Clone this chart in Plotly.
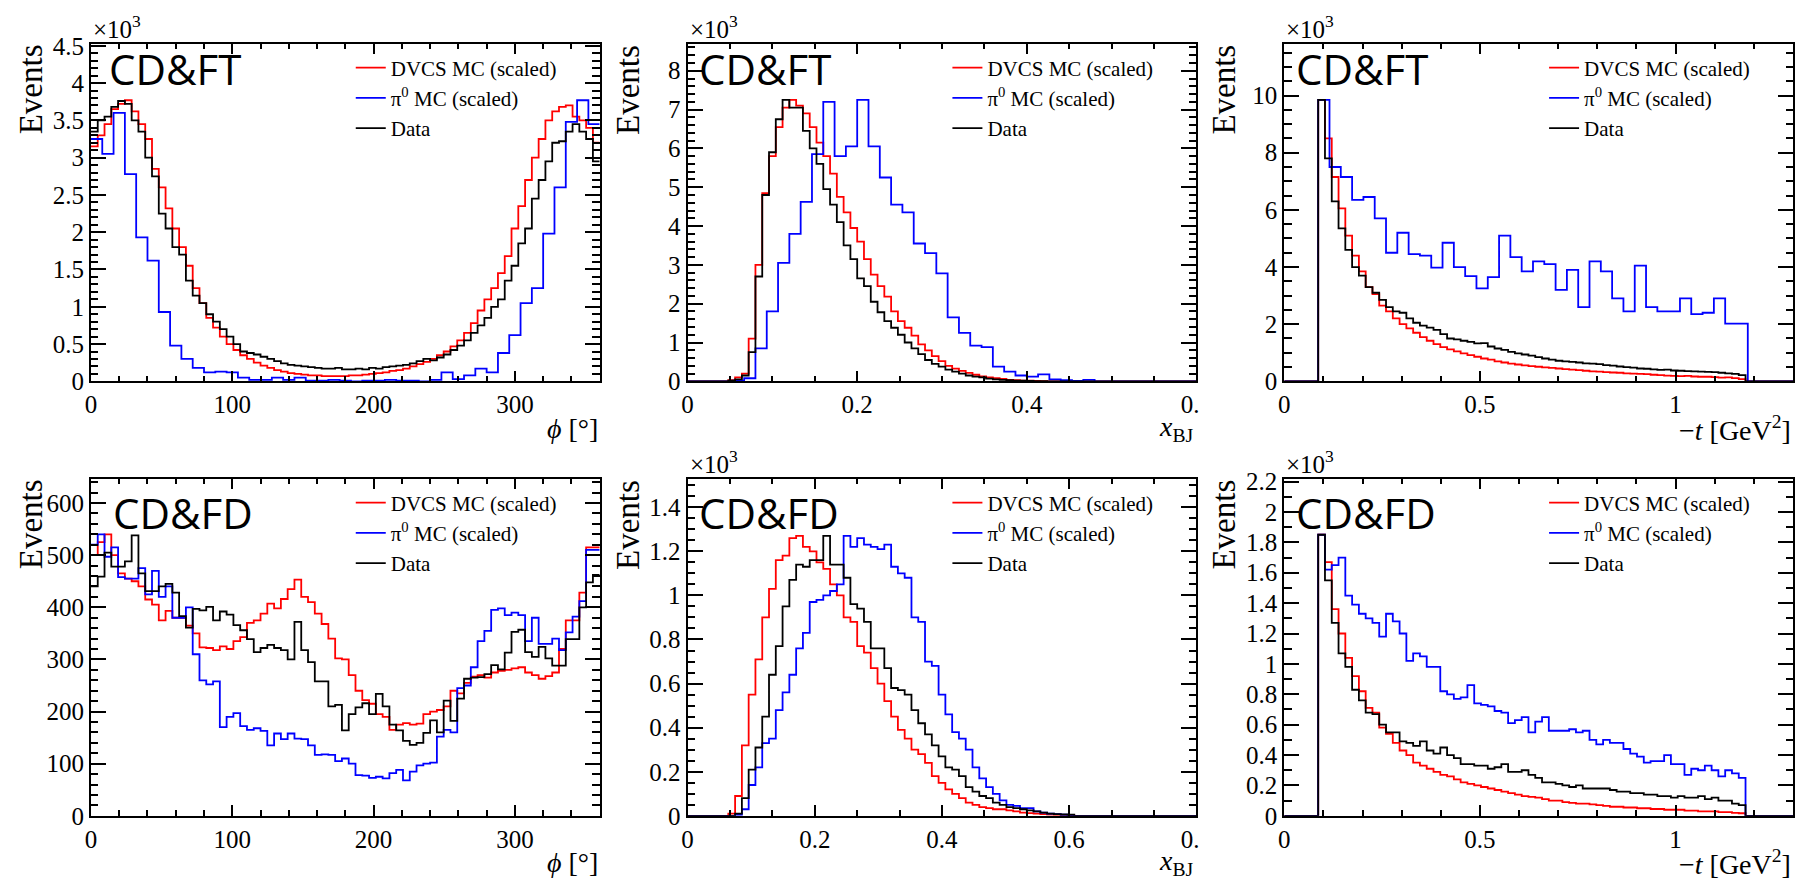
import numpy as np
import plotly.graph_objects as go

# ---------------- data (contents per bin) ----------------
PHI_RANGE = (0.0, 360.0)
XBJ_RANGE_FT = (0.0, 0.6)
XBJ_RANGE_FD = (0.0, 0.8)
T_RANGE = (0.0, 1.3)

# CD&FT, phi  (x10^3 events)
ft_phi_data = [3.35, 3.5, 3.55, 3.68, 3.76, 3.72, 3.5, 3.35, 3.0, 2.75,
               2.25, 2.05, 1.8, 1.7, 1.35, 1.15, 1.05, 0.9, 0.8, 0.7,
               0.6, 0.5, 0.4, 0.38, 0.36, 0.33, 0.3, 0.27, 0.24, 0.22,
               0.21, 0.2, 0.19, 0.18, 0.17, 0.17, 0.18, 0.16, 0.16, 0.17,
               0.16, 0.18, 0.17, 0.19, 0.2, 0.21, 0.22, 0.24, 0.27, 0.3,
               0.28, 0.32, 0.36, 0.42, 0.48, 0.55, 0.65, 0.75, 0.85, 1.0,
               1.1, 1.35, 1.55, 1.85, 2.05, 2.45, 2.7, 2.95, 3.2, 3.22,
               3.35, 3.45, 3.35, 3.25, 2.95]
ft_phi_dvcs = [3.15, 3.3, 3.45, 3.65, 3.72, 3.77, 3.62, 3.45, 3.25, 2.85,
               2.6, 2.32, 2.05, 1.8, 1.55, 1.25, 1.05, 0.85, 0.72, 0.6,
               0.5, 0.42, 0.35, 0.3, 0.25, 0.21, 0.18, 0.15, 0.13, 0.11,
               0.1, 0.09, 0.08, 0.08, 0.07, 0.07, 0.07, 0.07, 0.08, 0.08,
               0.09, 0.1, 0.11, 0.12, 0.14, 0.15, 0.17, 0.2, 0.23, 0.26,
               0.3, 0.35, 0.4, 0.47, 0.55, 0.65, 0.78, 0.95, 1.1, 1.25,
               1.45, 1.68, 2.05, 2.35, 2.7, 3.0, 3.25, 3.5, 3.62, 3.68,
               3.7, 3.55, 3.5, 3.4, 3.2]
ft_phi_pi0 = [3.25, 3.05, 3.6, 2.78, 1.93, 1.62, 0.93, 0.48, 0.3, 0.18,
              0.12, 0.13, 0.12, 0.05, 0.02, 0.02, 0.05, 0.02, 0.05, 0.01,
              0.01, 0.02, 0.01, 0.0, 0.01, 0.01, 0.02, 0.01, 0.01, 0.0,
              0.02, 0.12, 0.03, 0.08, 0.17, 0.12, 0.38, 0.62, 1.05, 1.25,
              1.98, 2.6, 3.48, 3.77, 3.45]

# CD&FT, x_BJ  (x10^3 events)
ft_xbj_data = [0.0] * 6 + [0.02, 0.05, 0.15, 0.75, 2.7, 4.8, 5.9, 6.75, 7.25, 7.05,
                           7.05, 6.45, 6.0, 5.6, 4.95, 4.55, 4.1, 3.5, 3.15, 2.65,
                           2.45, 2.05, 1.78, 1.55, 1.38, 1.2, 1.0, 0.85, 0.7, 0.55,
                           0.45, 0.38, 0.3, 0.25, 0.2, 0.15, 0.12, 0.1, 0.07, 0.05,
                           0.04, 0.03, 0.02, 0.015, 0.01, 0.008, 0.005] + [0.0] * 22
ft_xbj_dvcs = [0.0] * 6 + [0.03, 0.1, 0.2, 1.1, 3.0, 4.85, 5.8, 6.55, 7.05, 7.25,
                           7.1, 6.9, 6.55, 6.15, 5.8, 5.35, 4.75, 4.35, 3.95, 3.6,
                           3.15, 2.75, 2.45, 2.18, 1.8, 1.55, 1.38, 1.18, 0.95, 0.8,
                           0.65, 0.52, 0.4, 0.33, 0.27, 0.22, 0.17, 0.13, 0.1, 0.08,
                           0.06, 0.04, 0.03, 0.02, 0.015, 0.01, 0.005] + [0.0] * 22
ft_xbj_pi0 = [0.0] * 4 + [0.02, 0.08, 0.85, 1.8, 3.05, 3.8, 4.62, 5.85, 7.2, 5.8,
                          6.05, 7.25, 6.05, 5.25, 4.55, 4.35, 3.55, 3.3, 2.78, 1.65,
                          1.25, 0.92, 0.88, 0.38, 0.25, 0.15, 0.12, 0.18, 0.05, 0.03,
                          0.01, 0.04] + [0.0] * 9

# CD&FT, -t  (x10^3 events)
ft_t_data = [0.0] * 5 + [9.85, 7.8, 6.3, 5.35, 4.6, 4.0, 3.7, 3.3, 3.1, 2.85,
                         2.6, 2.45, 2.4, 2.2, 2.05, 1.95, 1.88, 1.8, 1.65, 1.5,
                         1.47, 1.42, 1.38, 1.33, 1.34, 1.22, 1.15, 1.1, 1.03, 0.98,
                         0.94, 0.9, 0.85, 0.8, 0.76, 0.72, 0.7, 0.68, 0.66, 0.63,
                         0.62, 0.6, 0.57, 0.55, 0.52, 0.5, 0.48, 0.45, 0.44, 0.42,
                         0.4, 0.41, 0.38, 0.37, 0.36, 0.35, 0.34, 0.33, 0.32, 0.3,
                         0.28, 0.26, 0.22] + [0.0] * 7
ft_t_dvcs = [0.0] * 5 + [9.85, 8.5, 7.15, 6.05, 5.1, 4.4, 3.85, 3.3, 3.05, 2.65, 2.45,
                         2.2, 2.0, 1.85, 1.7, 1.55, 1.42, 1.3, 1.2, 1.12, 1.05,
                         0.98, 0.92, 0.86, 0.8, 0.76, 0.7, 0.66, 0.62, 0.59, 0.56,
                         0.53, 0.51, 0.49, 0.47, 0.45, 0.43, 0.41, 0.39, 0.37, 0.35,
                         0.34, 0.32, 0.31, 0.3, 0.28, 0.27, 0.26, 0.25, 0.23, 0.22,
                         0.2, 0.19, 0.18, 0.19, 0.17, 0.16, 0.16, 0.15, 0.13, 0.14,
                         0.11, 0.08] + [0.0] * 7
ft_t_pi0 = [0.0] * 3 + [9.85, 7.5, 7.15, 6.35, 6.45, 5.7, 4.5, 5.2, 4.45, 4.4,
                        3.98, 4.85, 4.0, 3.68, 3.25, 3.65, 5.1, 4.35, 3.85, 4.2,
                        4.1, 3.2, 3.9, 2.6, 4.2, 3.85, 2.9, 2.45, 4.05, 2.6,
                        2.45, 2.45, 2.9, 2.35, 2.4, 2.9, 2.02, 2.02] + [0.0] * 4

# CD&FD, phi  (events)
fd_phi_data = [440, 459, 505, 478, 478, 488, 538, 465, 431, 431,
               440, 445, 428, 383, 361, 397, 394, 401, 375, 392,
               386, 366, 356, 339, 314, 322, 328, 322, 318, 300,
               372, 318, 295, 258, 258, 210, 213, 164, 195, 208,
               216, 195, 234, 210, 175, 164, 144, 136, 140, 159,
               183, 160, 221, 182, 225, 263, 265, 266, 272, 289,
               281, 313, 353, 357, 314, 305, 324, 302, 288, 288,
               339, 339, 400, 448, 462]
fd_phi_dvcs = [500, 525, 540, 500, 465, 455, 450, 440, 415, 405,
               375, 393, 380, 380, 365, 350, 323, 322, 318, 325,
               320, 335, 343, 370, 375, 388, 407, 398, 416, 435,
               453, 420, 410, 388, 368, 340, 302, 300, 270, 240,
               222, 215, 195, 190, 165, 175, 178, 175, 177, 195,
               200, 203, 210, 240, 235, 255, 267, 270, 265, 275,
               278, 280, 283, 285, 275, 270, 263, 268, 275, 320,
               375, 375, 428, 515, 515]
fd_phi_pi0 = [520, 540, 497, 515, 458, 455, 455, 475, 425, 470,
              420, 440, 380, 380, 400, 310, 260, 252, 258, 170,
              190, 197, 172, 165, 168, 163, 135, 158, 147, 158,
              148, 147, 135, 117, 118, 117, 105, 110, 100, 78,
              77, 73, 75, 72, 82, 88, 68, 85, 97, 100,
              102, 152, 165, 160, 245, 250, 285, 335, 355, 395,
              398, 385, 390, 385, 335, 380, 330, 330, 340, 318,
              352, 382, 412, 510, 510]

# CD&FD, x_BJ  (x10^3 events)
fd_xbj_data = [0.0] * 7 + [0.01, 0.08, 0.21, 0.31, 0.45, 0.64, 0.77, 0.95, 1.07, 1.14,
                           1.13, 1.16, 1.16, 1.27, 1.14, 1.14, 1.08, 0.96, 0.94, 0.88,
                           0.76, 0.76, 0.67, 0.58, 0.57, 0.55, 0.48, 0.42, 0.37, 0.32,
                           0.27, 0.22, 0.21, 0.18, 0.13, 0.11, 0.09, 0.08, 0.06, 0.05,
                           0.04, 0.035, 0.03, 0.025, 0.02, 0.015, 0.01, 0.008, 0.006, 0.005] + [0.0] * 18
fd_xbj_dvcs = [0.0] * 6 + [0.01, 0.09, 0.32, 0.55, 0.71, 0.9, 1.03, 1.16, 1.18, 1.26,
                           1.27, 1.22, 1.2, 1.15, 1.12, 1.05, 1.0, 0.9, 0.88, 0.77,
                           0.74, 0.67, 0.6, 0.52, 0.45, 0.39, 0.35, 0.3, 0.28, 0.24,
                           0.18, 0.15, 0.12, 0.1, 0.08, 0.06, 0.05, 0.04, 0.035, 0.03,
                           0.03, 0.025, 0.02, 0.015, 0.012, 0.01, 0.008, 0.006, 0.005, 0.004,
                           0.003] + [0.0] * 18
fd_xbj_pi0 = [0.0] * 7 + [0.005, 0.03, 0.14, 0.22, 0.33, 0.35, 0.48, 0.56, 0.64, 0.76,
                          0.83, 0.97, 0.98, 1.0, 1.02, 1.05, 1.27, 1.22, 1.26, 1.23,
                          1.22, 1.21, 1.23, 1.13, 1.1, 1.08, 0.9, 0.88, 0.7, 0.68,
                          0.55, 0.46, 0.38, 0.35, 0.3, 0.22, 0.17, 0.13, 0.1, 0.07,
                          0.05, 0.045, 0.035, 0.035, 0.02, 0.015, 0.01, 0.008, 0.005] + [0.0] * 19

# CD&FD, -t  (x10^3 events)
fd_t_data = [0.0] * 5 + [1.85, 1.55, 1.27, 1.07, 0.98, 0.83, 0.76, 0.68, 0.67, 0.6,
                         0.55, 0.55, 0.49, 0.48, 0.46, 0.49, 0.43, 0.41, 0.45, 0.4,
                         0.38, 0.34, 0.34, 0.33, 0.33, 0.31, 0.32, 0.34, 0.29, 0.29,
                         0.3, 0.27, 0.25, 0.22, 0.22, 0.21, 0.2, 0.19, 0.2, 0.18,
                         0.18, 0.18, 0.18, 0.17, 0.16, 0.16, 0.15, 0.15, 0.14, 0.14,
                         0.13, 0.13, 0.12, 0.13, 0.12, 0.12, 0.13, 0.11, 0.12, 0.1,
                         0.1, 0.08, 0.07] + [0.0] * 7
fd_t_dvcs = [0.0] * 5 + [1.85, 1.67, 1.36, 1.2, 1.04, 0.92, 0.82, 0.71, 0.68, 0.58, 0.54,
                         0.48, 0.43, 0.4, 0.35, 0.33, 0.31, 0.29, 0.27, 0.26, 0.24,
                         0.22, 0.21, 0.2, 0.19, 0.18, 0.17, 0.16, 0.15, 0.14, 0.13,
                         0.125, 0.12, 0.11, 0.1, 0.1, 0.09, 0.085, 0.08, 0.08, 0.075,
                         0.07, 0.065, 0.06, 0.06, 0.055, 0.055, 0.05, 0.05, 0.045, 0.045,
                         0.04, 0.04, 0.04, 0.035, 0.035, 0.03, 0.03, 0.03, 0.025, 0.025,
                         0.02, 0.017] + [0.0] * 7
fd_t_pi0 = [0.0] * 5 + [1.85, 1.62, 1.65, 1.7, 1.45, 1.39, 1.33, 1.3, 1.27, 1.18, 1.33,
                        1.28, 1.2, 1.02, 1.07, 1.05, 0.98, 0.98, 0.82, 0.8, 0.77,
                        0.78, 0.86, 0.74, 0.73, 0.72, 0.69, 0.68, 0.61, 0.63, 0.65,
                        0.55, 0.62, 0.65, 0.56, 0.56, 0.56, 0.57, 0.55, 0.56, 0.5,
                        0.47, 0.5, 0.48, 0.48, 0.44, 0.41, 0.39, 0.35, 0.36, 0.36,
                        0.4, 0.34, 0.34, 0.27, 0.31, 0.3, 0.33, 0.3, 0.26, 0.3,
                        0.28, 0.25] + [0.0] * 7

SERIES_NAMES = ["DVCS MC (scaled)", "π<sup>0</sup> MC (scaled)", "Data"]
SERIES_COLORS = ["#ff0000", "#0000ff", "#000000"]
REGION_LABELS = ["CD&FT", "CD&FD"]
X_TITLES = ["<i>ϕ</i> [°]", "<i>x</i><sub>BJ</sub>", "−<i>t</i> [GeV<sup>2</sup>]"]

# ---------------- layout geometry ----------------
W, H = 1810, 894
COLS = [(86, 601), (690, 1205), (1294, 1809)]
ROWS = [(33.5, 381), (481, 828)]
SERIF = "Liberation Serif"
SANS = "Open Sans"

panels = [
    dict(r=0, c=0, xr=PHI_RANGE, hists=[ft_phi_dvcs, ft_phi_pi0, ft_phi_data], ymax=4.53,
         xd=100, xm=20, yd=0.5, ym=0.1, scale=True, clip=None, lab_dx=16),
    dict(r=0, c=1, xr=XBJ_RANGE_FT, hists=[ft_xbj_dvcs, ft_xbj_pi0, ft_xbj_data], ymax=8.7,
         xd=0.2, xm=0.05, yd=1, ym=0.2, scale=True, clip=[0, 0.2, 0.4, 0.6], lab_dx=9),
    dict(r=0, c=2, xr=T_RANGE, hists=[ft_t_dvcs, ft_t_pi0, ft_t_data], ymax=11.82,
         xd=0.5, xm=0.1, yd=2, ym=0.5, scale=True, clip=None, lab_dx=10),
    dict(r=1, c=0, xr=PHI_RANGE, hists=[fd_phi_dvcs, fd_phi_pi0, fd_phi_data], ymax=647,
         xd=100, xm=20, yd=100, ym=20, scale=False, clip=None, lab_dx=20),
    dict(r=1, c=1, xr=XBJ_RANGE_FD, hists=[fd_xbj_dvcs, fd_xbj_pi0, fd_xbj_data], ymax=1.53,
         xd=0.2, xm=0.2 / 3, yd=0.2, ym=0.05, scale=True, clip=[0, 0.2, 0.4, 0.6, 0.8], lab_dx=9),
    dict(r=1, c=2, xr=T_RANGE, hists=[fd_t_dvcs, fd_t_pi0, fd_t_data], ymax=2.22,
         xd=0.5, xm=0.1, yd=0.2, ym=0.1, scale=True, clip=None, lab_dx=10),
]

fig = go.Figure()
annotations = []
layout = {}

for i, p in enumerate(panels):
    idx = "" if i == 0 else str(i + 1)
    xa, ya, lg = "x" + idx, "y" + idx, "legend" + idx
    x0, x1 = COLS[p["c"]]
    ytop, ybot = ROWS[p["r"]]
    lo, hi = p["xr"]

    for name, color, vals in zip(SERIES_NAMES, SERIES_COLORS, p["hists"]):
        edges = np.linspace(lo, hi, len(vals) + 1)
        yv = list(vals) + [vals[-1]]
        fig.add_trace(go.Scatter(
            x=edges, y=yv, mode="lines", name=name,
            line=dict(shape="hv", color=color, width=1.8),
            xaxis=xa, yaxis=ya, legend=lg, hoverinfo="skip"))

    tickfont = dict(family=SERIF, size=25, color="black")
    xaxis = dict(domain=[x0 / W, x1 / W], range=[lo, hi], anchor=ya,
                 showline=True, linewidth=2, linecolor="black", mirror="ticks",
                 ticks="inside", ticklen=10.5, tickwidth=1.5, tickcolor="black",
                 tick0=0, dtick=p["xd"], showgrid=False, zeroline=False,
                 minor=dict(ticks="inside", ticklen=5.5, tickwidth=1.5, tickcolor="black",
                            tick0=0, dtick=p["xm"], showgrid=False),
                 tickfont=tickfont, fixedrange=True)
    if p["clip"] is not None:
        tv = p["clip"]
        tt = [("%g" % v) for v in tv[:-1]] + \
             ['0.<span style="color:rgba(0,0,0,0)">%s</span>' % ("%g" % tv[-1])[2:]]
        xaxis.update(tickmode="array", tickvals=tv, ticktext=tt)
    yaxis = dict(domain=[1 - ybot / H, 1 - ytop / H], range=[0, p["ymax"]], anchor=xa,
                 showline=True, linewidth=2, linecolor="black", mirror="ticks",
                 ticks="inside", ticklen=15, tickwidth=1.5, tickcolor="black",
                 tick0=0, dtick=p["yd"], showgrid=False, zeroline=False,
                 minor=dict(ticks="inside", ticklen=7.5, tickwidth=1.5, tickcolor="black",
                            tick0=0, dtick=p["ym"], showgrid=False),
                 tickfont=tickfont, fixedrange=True)
    layout["xaxis" + idx] = xaxis
    layout["yaxis" + idx] = yaxis

    leg_top = ytop + 4
    layout[lg] = dict(x=(x0 + 263) / W, y=1 - leg_top / H, xanchor="left", yanchor="top",
                      bgcolor="rgba(0,0,0,0)", borderwidth=0, traceorder="normal",
                      font=dict(family=SERIF, size=21, color="black"), itemwidth=30)

    # Axis titles
    annotations.append(dict(text="Events", x=(x0 - 61) / W, y=1 - (ytop - 1) / H, xref="paper", yref="paper",
                            xanchor="center", yanchor="top", textangle=-90, showarrow=False,
                            font=dict(family=SERIF, size=33, color="black")))
    xt_y = 430 if p["r"] == 0 else 876
    annotations.append(dict(text=X_TITLES[p["c"]], x=x1 / W, y=1 - xt_y / H, xref="paper", yref="paper",
                            xanchor="right", yanchor="middle", showarrow=False,
                            font=dict(family=SERIF, size=28, color="black")))
    if p["scale"]:
        annotations.append(dict(text="×10<sup>3</sup>", x=x0 / W, y=1 - (ytop + 1) / H,
                                xref="paper", yref="paper", xanchor="left", yanchor="bottom",
                                showarrow=False, font=dict(family=SERIF, size=25, color="black")))
    lab_y = 59.5 if p["r"] == 0 else 516
    annotations.append(dict(text=REGION_LABELS[p["r"]], x=(x0 + p["lab_dx"]) / W, y=1 - lab_y / H,
                            xref="paper", yref="paper", xanchor="left", yanchor="middle",
                            showarrow=False, font=dict(family=SANS, size=42, color="black")))

fig.update_layout(**layout)
fig.update_layout(width=W, height=H, margin=dict(l=0, r=0, t=0, b=0),
                  paper_bgcolor="white", plot_bgcolor="white",
                  showlegend=True, hovermode=False, annotations=annotations)

fig.write_html("out.html")
